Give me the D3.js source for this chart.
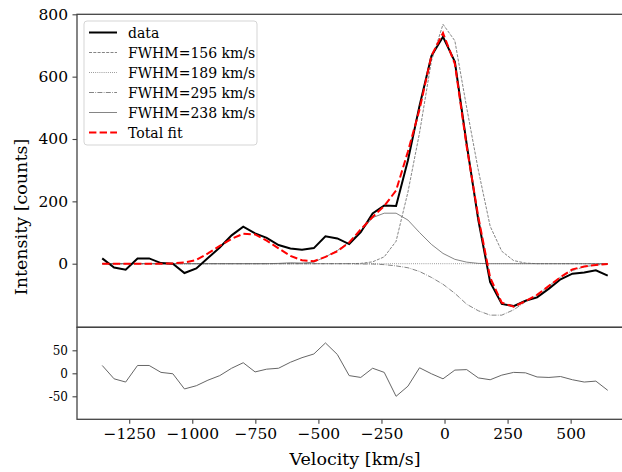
<!DOCTYPE html>
<html lang="en">
<head>
<meta charset="UTF-8">
<title>Line profile fit</title>
<script src="https://d3js.org/d3.v7.min.js"></script>
<style>
body {
  margin: 0;
  background: white;
}
text {
  font-family: "DejaVu Serif", serif;
  fill: black;
}
.axis path, .axis line {
  stroke: #444;
  stroke-width: 1.1px;
}
.spine {
  fill: none;
  stroke: #444;
  stroke-width: 1.3px;
}
</style>
</head>
<body>
<div id="chart"></div>
<script>

// velocity grid of the spectrum (km/s)
var velocity = [-1357, -1310, -1264, -1217, -1171, -1124, -1077, -1031, -984, -938,
  -891, -844, -798, -751, -705, -658, -611, -565, -518, -472,
  -425, -378, -332, -285, -239, -192, -145, -99, -52, -6,
  41, 88, 134, 181, 227, 274, 321, 367, 414, 460,
  507, 554, 600, 647];

// observed counts
var data = [17, -12, -19, 17, 17, 2, 0, -30, -15, 18,
  52, 91, 119, 97, 83, 60, 49, 45, 50, 88,
  81, 63, 101, 161, 187, 185, 332, 507, 666, 728,
  648, 383, 140, -59, -129, -136, -119, -108, -80, -50,
  -32, -28, -21, -38];

// gaussian components
var comp156 = [0, 0, 0, 0, 0, 0, 0, 0, 0, 0,
  0, 0, 0, 0, 0, 0, 0, 0, 0, 0,
  0, 0, 1, 6, 22, 72, 230, 420, 650, 768,
  715, 500, 300, 120, 40, 10, 2, 0, 0, 0,
  0, 0, 0, 0];
var comp189 = [0, 0, 0, 0, 0, 0, 0, 0, 0, 0,
  0, 0, 0, 0, 0, 0, 0, 0, 0, 0,
  0, 0, 0, 0, 0, 0, 0, 0, 0, 0,
  0, 0, 0, 0, 0, 0, 0, 0, 0, 0,
  0, 0, 0, 0];
var comp295 = [0, 0, 0, 0, 0, 0, 0, 0, 0, 0,
  0, 0, 0, 0, 0, 0, 0, 0, 0, 0,
  0, 0, -1, -1, -3, -7, -13, -25, -44, -66,
  -95, -130, -151, -165, -165, -148, -122, -100, -71, -43,
  -22, -10, -4, -1];
var comp238 = [0, 0, 0, 0, 0, 0, 0, 0, 0, 0,
  0, 0, 0, 0, 0, 1, 3, 2, 5, 22,
  42, 70, 103, 148, 162, 162, 140, 100, 62, 33,
  14, 5, 1, 0, 0, 0, 0, 0, 0, 0,
  0, 0, 0, 0];

// total fit
var totalFit = [0, 0, 0, 0, 0, 0, 1, 4, 12, 33,
  57, 80, 96, 94, 74, 49, 25, 11, 8, 22,
  40, 68, 110, 150, 185, 235, 360, 495, 667, 740,
  641, 375, 150, -45, -125, -138, -120, -100, -71, -43,
  -18, -9, -4, -1];

// residuals (data - fit)
var residual = [17, -12, -19, 17, 17, 2, -1, -34, -27, -15,
  -5, 11, 23, 3, 9, 11, 24, 34, 42, 66,
  41, -5, -9, 11, 2, -50, -28, 12, -1, -12,
  7, 8, -10, -14, -4, 2, 1, -8, -9, -7,
  -14, -19, -17, -37];

var topTicks = [0, 200, 400, 600, 800];
var bottomTicks = [-50, 0, 50];
var xTicks = [-1250, -1000, -750, -500, -250, 0, 250, 500];

var legendLabels = ["data", "FWHM=156 km/s", "FWHM=189 km/s", "FWHM=295 km/s", "FWHM=238 km/s", "Total fit"];

var width = 622,
    height = 472;

var svg = d3.select("#chart")
    .append("svg")
    .attr("width", width)
    .attr("height", height);

var x = d3.scaleLinear()
    .domain([-1457, 750])
    .range([77, 633.7]);

var yTop = d3.scaleLinear()
    .domain([-204, 800])
    .range([327.3, 14.3]);

var yBot = d3.scaleLinear()
    .domain([-100, 100])
    .range([419.3, 327.3]);

var lineTop = function(values) {
  return d3.line()
      .x(function(d, i) { return x(velocity[i]); })
      .y(function(d) { return yTop(d); })(values);
};

// series styles, in legend order
var series = [
  {values: data, color: "black", width: 2, dash: null},
  {values: comp156, color: "#666", width: 0.8, dash: "3,1.3"},
  {values: comp189, color: "#666", width: 0.8, dash: "0.8,1.3"},
  {values: comp295, color: "#666", width: 0.8, dash: "5,1.3,0.8,1.3"},
  {values: comp238, color: "#666", width: 0.8, dash: null},
  {values: totalFit, color: "red", width: 2, dash: "7.4,3.2"}
];

// draw order: components first, then data and fit on top
var drawOrder = [1, 2, 3, 4, 0, 5];
drawOrder.forEach(function(k) {
  var s = series[k];
  svg.append("path")
      .attr("d", lineTop(s.values))
      .attr("fill", "none")
      .attr("stroke", s.color)
      .attr("stroke-width", s.width)
      .attr("stroke-dasharray", s.dash);
});

// residual panel
svg.append("path")
    .attr("d", d3.line()
      .x(function(d, i) { return x(velocity[i]); })
      .y(function(d) { return yBot(d); })(residual))
    .attr("fill", "none")
    .attr("stroke", "#666")
    .attr("stroke-width", 1);

// spines
svg.append("rect").attr("class", "spine")
    .attr("x", 77).attr("y", yTop.range()[1])
    .attr("width", 600).attr("height", yTop.range()[0] - yTop.range()[1]);
svg.append("rect").attr("class", "spine")
    .attr("x", 77).attr("y", yBot.range()[1])
    .attr("width", 600).attr("height", yBot.range()[0] - yBot.range()[1]);

// axes
var gyTop = svg.append("g")
    .attr("class", "axis")
    .attr("transform", "translate(77,0)")
    .call(d3.axisLeft(yTop).tickValues(topTicks).tickSize(4.5).tickPadding(4.5).tickFormat(d3.format("d")));
gyTop.select(".domain").remove();
gyTop.selectAll("text").style("font-size", "15.5px").style("font-family", "DejaVu Serif");

var gyBot = svg.append("g")
    .attr("class", "axis")
    .attr("transform", "translate(77,0)")
    .call(d3.axisLeft(yBot).tickValues(bottomTicks).tickSize(4.5).tickPadding(4.5).tickFormat(function(d) { return String(d); }));
gyBot.select(".domain").remove();
gyBot.selectAll("text").style("font-size", "12px").style("font-family", "DejaVu Serif");

var gx = svg.append("g")
    .attr("class", "axis")
    .attr("transform", "translate(0," + yBot.range()[0] + ")")
    .call(d3.axisBottom(x).tickValues(xTicks).tickSize(4.5).tickPadding(4).tickFormat(d3.format("d")));
gx.select(".domain").remove();
gx.selectAll("text").style("font-size", "15.5px").style("font-family", "DejaVu Serif");

// axis labels
svg.append("text")
    .attr("x", 355)
    .attr("y", 465)
    .attr("text-anchor", "middle")
    .style("font-size", "17.5px")
    .text("Velocity [km/s]");

svg.append("text")
    .attr("transform", "translate(27,217) rotate(-90)")
    .attr("text-anchor", "middle")
    .style("font-size", "17.5px")
    .text("Intensity [counts]");

// legend
var legend = svg.append("g").attr("transform", "translate(84,21)");
legend.append("rect")
    .attr("width", 173)
    .attr("height", 124)
    .attr("rx", 3)
    .attr("fill", "white")
    .attr("fill-opacity", 0.8)
    .attr("stroke", "#d5d5d5");

series.forEach(function(s, i) {
  var yy = 11.5 + i * 20;
  legend.append("line")
      .attr("x1", 5).attr("x2", 33)
      .attr("y1", yy).attr("y2", yy)
      .attr("stroke", s.color)
      .attr("stroke-width", s.width)
      .attr("stroke-dasharray", s.dash);
  legend.append("text")
      .attr("x", 44)
      .attr("y", yy + 5)
      .style("font-size", "14px")
      .text(legendLabels[i]);
});

</script>
</body>
</html>
